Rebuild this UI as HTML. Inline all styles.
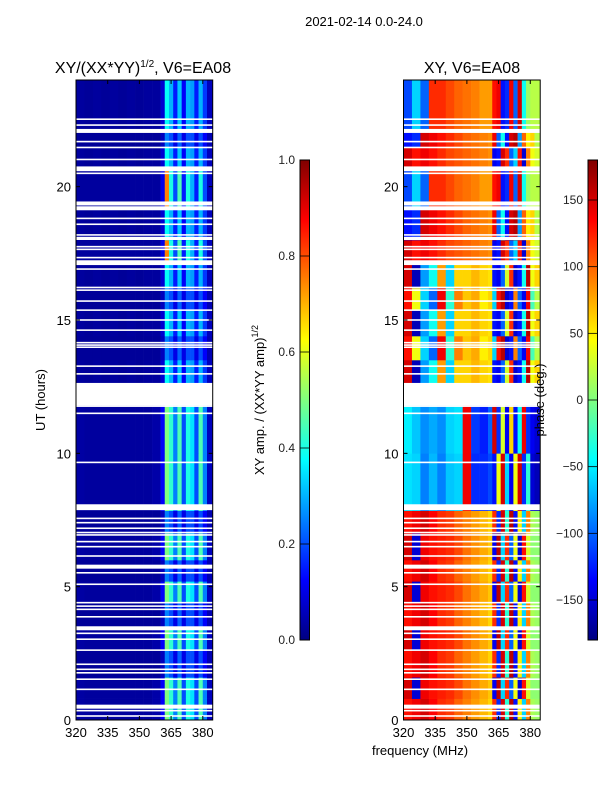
<!DOCTYPE html>
<html><head><meta charset="utf-8"><style>
body{margin:0;background:#fff;width:600px;height:800px;overflow:hidden}
svg{font-family:"Liberation Sans","DejaVu Sans",sans-serif}
</style></head><body>
<svg id="fig" width="600" height="800" viewBox="0 0 600 800">
<text x="364" y="26" font-size="13" text-anchor="middle">2021-02-14 0.0-24.0</text>
<text x="143" y="73" font-size="16" text-anchor="middle">XY/(XX*YY)<tspan font-size="10" dy="-6">1/2</tspan><tspan dy="6">, V6=EA08</tspan></text>
<text x="472" y="73" font-size="16" text-anchor="middle">XY, V6=EA08</text>
<text transform="translate(45,400) rotate(-90)" font-size="13" text-anchor="middle">UT (hours)</text>
<text x="420" y="755" font-size="13" text-anchor="middle">frequency (MHz)</text>
<text transform="translate(264,400) rotate(-90)" font-size="13" text-anchor="middle">XY amp. / (XX*YY amp)<tspan font-size="9" dy="-6">1/2</tspan></text>
<g id="amp"></g>
<g id="phs"></g>
<g id="axes"></g>
<text transform="translate(544,400) rotate(-90)" font-size="13" text-anchor="middle">phase (deg.)</text>
</svg>
<script>
const freqEdges=[320,324,328,332,336,340,344,348,352,356,360,362,364,366,368,370,372,374,376,378,380,382,384.7];
const ampA=[0.03,0.025,0.03,0.025,0.03,0.025,0.03,0.025,0.03,0.03,0.08,0.38,0.3,0.15,0.32,0.12,0.3,0.28,0.15,0.3,0.18,0.06];
const ampB=[0.035,0.03,0.03,0.03,0.03,0.03,0.03,0.03,0.03,0.04,0.12,0.5,0.42,0.25,0.45,0.2,0.4,0.35,0.2,0.45,0.25,0.06];
const ampC=[0.025,0.025,0.025,0.025,0.025,0.025,0.025,0.025,0.025,0.025,0.06,0.25,0.2,0.1,0.22,0.1,0.2,0.2,0.1,0.2,0.12,0.05];
const ampD=[0.03,0.03,0.03,0.03,0.03,0.03,0.03,0.03,0.03,0.03,0.1,0.75,0.4,0.2,0.45,0.15,0.4,0.3,0.15,0.4,0.2,0.06];
const phP1=[150,-150,140,130,125,120,110,95,85,75,65,-140,160,-60,120,-100,40,-150,130,30,5,5];
const phP1b=[130,140,150,135,120,115,100,90,80,70,60,120,-120,150,-30,160,-130,50,-60,90,15,10];
const phP2=[-55,-60,-90,-70,-90,-65,-60,140,-120,-120,-110,-130,40,150,-60,-140,40,150,-120,-30,-150,-160];
const phP2b=[-50,-65,-85,-75,-85,-60,-55,140,-115,-125,-100,150,-120,30,-140,60,-130,-40,140,-120,-140,-150];
const phP3a=[150,-160,-80,-40,80,-60,60,60,70,60,55,-130,-140,-100,30,120,-150,-130,-40,160,40,60];
const phP3b=[130,40,-60,-100,140,-30,90,65,75,50,60,-60,130,160,-150,-130,90,-100,-140,140,-20,20];
const phP4=[150,130,140,130,120,110,105,100,95,90,85,-140,-130,150,120,-100,-60,130,-150,90,40,30];
const phP4b=[-130,-120,150,140,130,120,110,100,95,90,85,140,-100,-40,-130,150,160,-80,100,50,60,20];
const phP4c=[-110,-60,-100,120,120,110,100,95,90,80,80,130,140,-130,-120,140,-100,150,-40,10,20,20];
const segStart=[0,0.8,1.6,2.6,3.5,4.4,5.2,6.0,7.0,7.85,10,12.64,13.5,14.4,15.4,16.2,17.15,18,19.2,20.6,21.5,22.1];
const segEnd=[0.8,1.6,2.6,3.5,4.4,5.2,6.0,7.0,7.85,10,11.8,13.5,14.4,15.4,16.2,17.15,18,19.2,20.6,21.5,22.1,24];
const segAmp=['B','B','C','B','C','B','C','B','C','B','B','A','C','A','C','A','D','A','D','A','C','A'];
const segPhase=['P1b','P1','P1b','P1','P1b','P1','P1b','P1','P1b','P2','P2b','P3a','P3b','P3a','P3b','P3a','P4','P4b','P4c','P4','P4b','P4c'];
const gapHours=[22.53,22.31,22.09,21.69,21.47,21.02,20.67,20.5,19.37,19.19,18.81,18.59,18.19,18.06,17.75,17.65,17.34,17.15,16.91,16.22,16.12,15.71,15.37,15.0,14.62,14.15,14.06,13.98,13.27,12.98,12.22,11.77,11.5,9.66,7.98,7.56,7.4,7.19,7.03,6.94,6.69,6.5,6.15,5.75,5.52,5.09,4.4,4.27,4.15,3.87,3.44,3.25,3.03,2.62,2.09,1.9,1.77,1.53,1.15,0.5,0.35,0.15];
const gapWidths=[0.06,0.06,0.15,0.06,0.06,0.06,0.18,0.06,0.15,0.15,0.06,0.06,0.06,0.12,0.06,0.06,0.06,0.18,0.06,0.06,0.06,0.06,0.06,0.06,0.06,0.06,0.06,0.06,0.06,0.06,0.84,0.06,0.06,0.06,0.22,0.06,0.06,0.06,0.06,0.06,0.06,0.06,0.06,0.15,0.06,0.06,0.06,0.06,0.06,0.06,0.15,0.06,0.06,0.06,0.06,0.06,0.06,0.06,0.06,0.15,0.06,0.06];
const xTicks=[320,335,350,365,380];
const yTicks=[0,5,10,15,20];
const ampTicks=[0.0,0.2,0.4,0.6,0.8,1.0];
const phTicks=[-150,-100,-50,0,50,100,150];

const ampMap={A:ampA,B:ampB,C:ampC,D:ampD};
const phMap={P1:phP1,P1b:phP1b,P2:phP2,P2b:phP2b,P3a:phP3a,P3b:phP3b,P4:phP4,P4b:phP4b,P4c:phP4c};
const NS='http://www.w3.org/2000/svg';
const Y0=720,Y1=80,HMAX=24;
const yS=h=>Y0-(h/HMAX)*(Y0-Y1);
const mkX=x0=>f=>x0+(f-320)*2.113;
const xL=mkX(76), xR=mkX(403.5);
function jet(v){v=Math.max(0,Math.min(1,v));const c=t=>Math.round(255*Math.max(0,Math.min(1,1.5-Math.abs(4*v-t))));return `rgb(${c(3)},${c(2)},${c(1)})`;}
function el(tag,attrs,parent){const e=document.createElementNS(NS,tag);for(const k in attrs)e.setAttribute(k,attrs[k]);parent.appendChild(e);return e;}
const gA=document.getElementById('amp'),gP=document.getElementById('phs'),ax=document.getElementById('axes');
for(let s=0;s<segStart.length;s++){
  const ap=ampMap[segAmp[s]],pp=phMap[segPhase[s]];
  const y1=yS(segEnd[s]),y2=yS(segStart[s]);
  for(let b=0;b<freqEdges.length-1;b++){
    const r1=el('rect',{x:xL(freqEdges[b]),y:y1,width:xL(freqEdges[b+1])-xL(freqEdges[b])+0.3,height:y2-y1+0.3,fill:jet(ap[b])},gA);
    
    
    const r2=el('rect',{x:xR(freqEdges[b]),y:y1,width:xR(freqEdges[b+1])-xR(freqEdges[b])+0.3,height:y2-y1+0.3,fill:jet((pp[b]+180)/360)},gP);
    
    
  }
}
for(let i=0;i<gapHours.length;i++){
  const y1=yS(gapHours[i]+gapWidths[i]/2),y2=yS(gapHours[i]-gapWidths[i]/2);
  for(const xf of [xL,xR]){
    const g=el('rect',{x:xf(320),y:y1,width:xf(384.7)-xf(320),height:Math.max(1.2,y2-y1),fill:'#fff'},ax);
    
    
  }
}
for(const xf of [xL,xR]){
  const L=xf(320),R=xf(384.7);
  const fr=el('rect',{x:L,y:Y1,width:R-L,height:Y0-Y1,fill:'none',stroke:'#000','stroke-width':1},ax);
  
  
  for(const t of xTicks){const x=xf(t);
    el('line',{x1:x,x2:x,y1:Y0,y2:Y0-4,stroke:'#000'},ax);el('line',{x1:x,x2:x,y1:Y1,y2:Y1+4,stroke:'#000'},ax);
    const tx=el('text',{x:x,y:Y0+17,'font-size':13,'text-anchor':'middle'},ax);tx.textContent=t;
    
    }
  for(const t of yTicks){const y=yS(t);
    el('line',{x1:L,x2:L+4,y1:y,y2:y,stroke:'#000'},ax);el('line',{x1:R,x2:R-4,y1:y,y2:y,stroke:'#000'},ax);
    const ty=el('text',{x:L-5,y:y+5,'font-size':13,'text-anchor':'end'},ax);ty.textContent=t;
    
    }
}
const defs=el('defs',{},ax);const gr=el('linearGradient',{id:'jetg',x1:0,y1:1,x2:0,y2:0},defs);
for(let i=0;i<=16;i++)el('stop',{offset:i/16,'stop-color':jet(i/16)},gr);
function cbar(x,w,ticks,toFrac,fmt,name){
  const r=el('rect',{x:x,y:160,width:w,height:480,fill:'url(#jetg)',stroke:'#000','stroke-width':1},ax);
  
  
  for(const t of ticks){const y=640-toFrac(t)*480;
    el('line',{x1:x,x2:x+w,y1:y,y2:y,stroke:'#000','stroke-width':0.8},ax);
    const tt=el('text',{x:x-5,y:y+4,'font-size':12,'text-anchor':'end',fill:'#222'},ax);tt.textContent=fmt(t);
    
    }
}
cbar(300,9.5,ampTicks,t=>t,t=>t.toFixed(1),'amp-colorbar');
cbar(588,9.5,phTicks,t=>(t+180)/360,t=>t<0?'\u2212'+(-t):''+t,'phase-colorbar');
</script>
</body></html>
